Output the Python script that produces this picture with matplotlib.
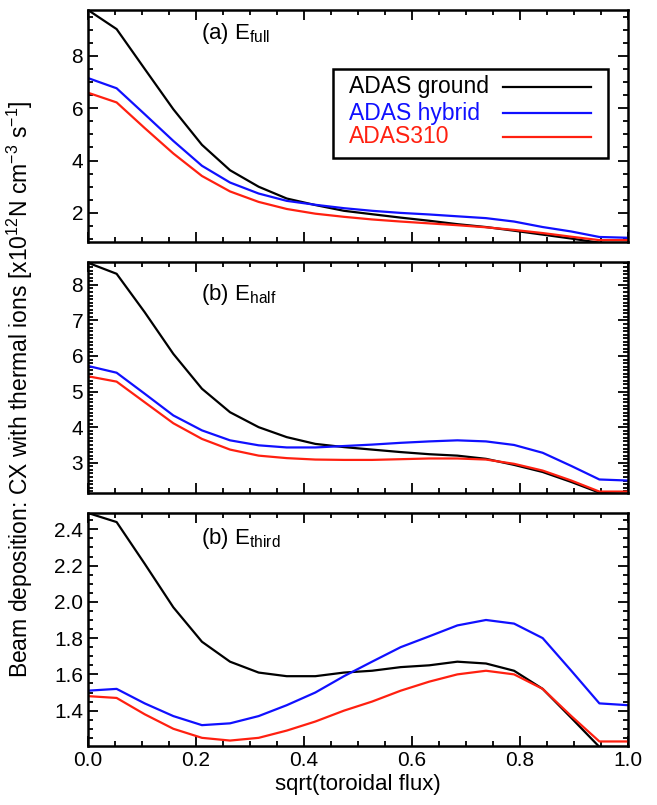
import matplotlib
matplotlib.use('Agg')
import matplotlib.pyplot as plt
from matplotlib.ticker import MultipleLocator
from matplotlib.patches import Rectangle

plt.rcParams['font.family'] = ['Liberation Sans', 'DejaVu Sans']
plt.rcParams['mathtext.default'] = 'regular'

# sqrt(toroidal flux) grid
rho = [0.0, 0.053, 0.105, 0.158, 0.211, 0.263, 0.316, 0.368, 0.421, 0.474,
       0.526, 0.579, 0.632, 0.684, 0.737, 0.789, 0.842, 0.895, 0.947, 1.0]

# (a) E_full
full_ground = [9.75, 9.02, 7.5, 5.96, 4.6, 3.63, 3.0, 2.55, 2.3, 2.08,
               1.95, 1.82, 1.7, 1.57, 1.46, 1.32, 1.17, 1.02, 0.86, 0.8]
full_hybrid = [7.15, 6.76, 5.77, 4.75, 3.8, 3.16, 2.74, 2.46, 2.31, 2.18,
               2.08, 2.0, 1.94, 1.87, 1.8, 1.67, 1.46, 1.29, 1.08, 1.05]
full_310 = [6.59, 6.22, 5.24, 4.27, 3.41, 2.82, 2.42, 2.15, 1.97, 1.85,
            1.75, 1.67, 1.6, 1.53, 1.45, 1.35, 1.23, 1.09, 0.96, 0.96]

# (b) E_half
half_ground = [8.62, 8.31, 7.23, 6.06, 5.08, 4.42, 4.0, 3.72, 3.53, 3.44,
               3.37, 3.3, 3.24, 3.2, 3.11, 2.94, 2.74, 2.46, 2.16, 2.1]
half_hybrid = [5.72, 5.53, 4.94, 4.33, 3.91, 3.63, 3.49, 3.43, 3.43, 3.47,
               3.51, 3.56, 3.6, 3.63, 3.6, 3.5, 3.28, 2.91, 2.53, 2.5]
half_310 = [5.43, 5.28, 4.7, 4.11, 3.67, 3.37, 3.2, 3.13, 3.09, 3.08,
            3.08, 3.1, 3.12, 3.12, 3.09, 2.97, 2.78, 2.5, 2.19, 2.19]

# (b) E_third
third_ground = [2.49, 2.44, 2.21, 1.97, 1.78, 1.67, 1.61, 1.59, 1.59, 1.61,
                1.62, 1.64, 1.65, 1.67, 1.66, 1.62, 1.52, 1.36, 1.2, 1.15]
third_hybrid = [1.51, 1.52, 1.44, 1.37, 1.32, 1.33, 1.37, 1.43, 1.5, 1.59,
                1.67, 1.75, 1.81, 1.87, 1.9, 1.88, 1.8, 1.62, 1.44, 1.43]
third_310 = [1.48, 1.47, 1.38, 1.3, 1.25, 1.235, 1.25, 1.29, 1.34, 1.4,
             1.45, 1.51, 1.56, 1.6, 1.62, 1.6, 1.52, 1.37, 1.23, 1.23]

labels = ['ADAS ground', 'ADAS hybrid', 'ADAS310']
colors = ['black', '#1010ff', '#ff2010']

panels = [
    ('(a) E$_{full}$', [full_ground, full_hybrid, full_310], (0.9, 9.75), 2, 0.5, 0.90),
    ('(b) E$_{half}$', [half_ground, half_hybrid, half_310], (2.15, 8.65), 1, 0.1, 0.86),
    ('(b) E$_{third}$', [third_ground, third_hybrid, third_310], (1.205, 2.49), 0.2, 0.05, 0.89),
]

fig = plt.figure(figsize=(6.57, 8.05), dpi=100)
W, H = 657.0, 805.0
left, right = 88 / W, 628 / W
# (top, bottom) of each panel in pixels
rows = [(10, 241.7), (261.7, 493), (513, 746)]

axes = []
for (top, bot), (title, series, ylim, major, minor, ty) in zip(rows, panels):
    ax = fig.add_axes([left, 1 - bot / H, right - left, (bot - top) / H])
    for ys, lab, c in zip(series, labels, colors):
        ax.plot(rho, ys, color=c, lw=1.6, label=lab)
    ax.set_xlim(0, 1)
    ax.set_ylim(*ylim)
    ax.xaxis.set_major_locator(MultipleLocator(0.2))
    ax.xaxis.set_minor_locator(MultipleLocator(0.05))
    ax.yaxis.set_major_locator(MultipleLocator(major))
    ax.yaxis.set_minor_locator(MultipleLocator(minor))
    ax.tick_params(which='both', direction='in', top=True, right=True, width=1.3, labelsize=15)
    ax.tick_params(which='major', length=7)
    ax.tick_params(which='minor', length=3.5)
    for s in ax.spines.values():
        s.set_linewidth(1.8)
    ax.text(0.21, ty, title, transform=ax.transAxes, fontsize=16, va='center')
    axes.append(ax)

for ax in axes[:2]:
    ax.tick_params(labelbottom=False)

axes[2].set_xlabel('sqrt(toroidal flux)', fontsize=16, labelpad=3)

# legend: text on the left, line sample on the right
ax0 = axes[0]
ax0.add_patch(Rectangle((0.454, 0.361), 0.509, 0.384, transform=ax0.transAxes,
                        facecolor='white', edgecolor='black', lw=1.8, zorder=5))
for lab, c, yy in zip(labels, colors, [0.668, 0.555, 0.452]):
    ax0.text(0.483, yy, lab, color=c, fontsize=16.5, va='center', ha='left',
             transform=ax0.transAxes, zorder=6)
    ax0.plot([0.769, 0.931], [yy, yy], color=c, lw=1.6, transform=ax0.transAxes, zorder=6)

fig.text(0.030, 0.516, 'Beam deposition: CX with thermal ions [x10$^{12}$N cm$^{-3}$ s$^{-1}$]',
         rotation=90, ha='center', va='center', fontsize=16.5)

fig.savefig('out.png', dpi=100)
